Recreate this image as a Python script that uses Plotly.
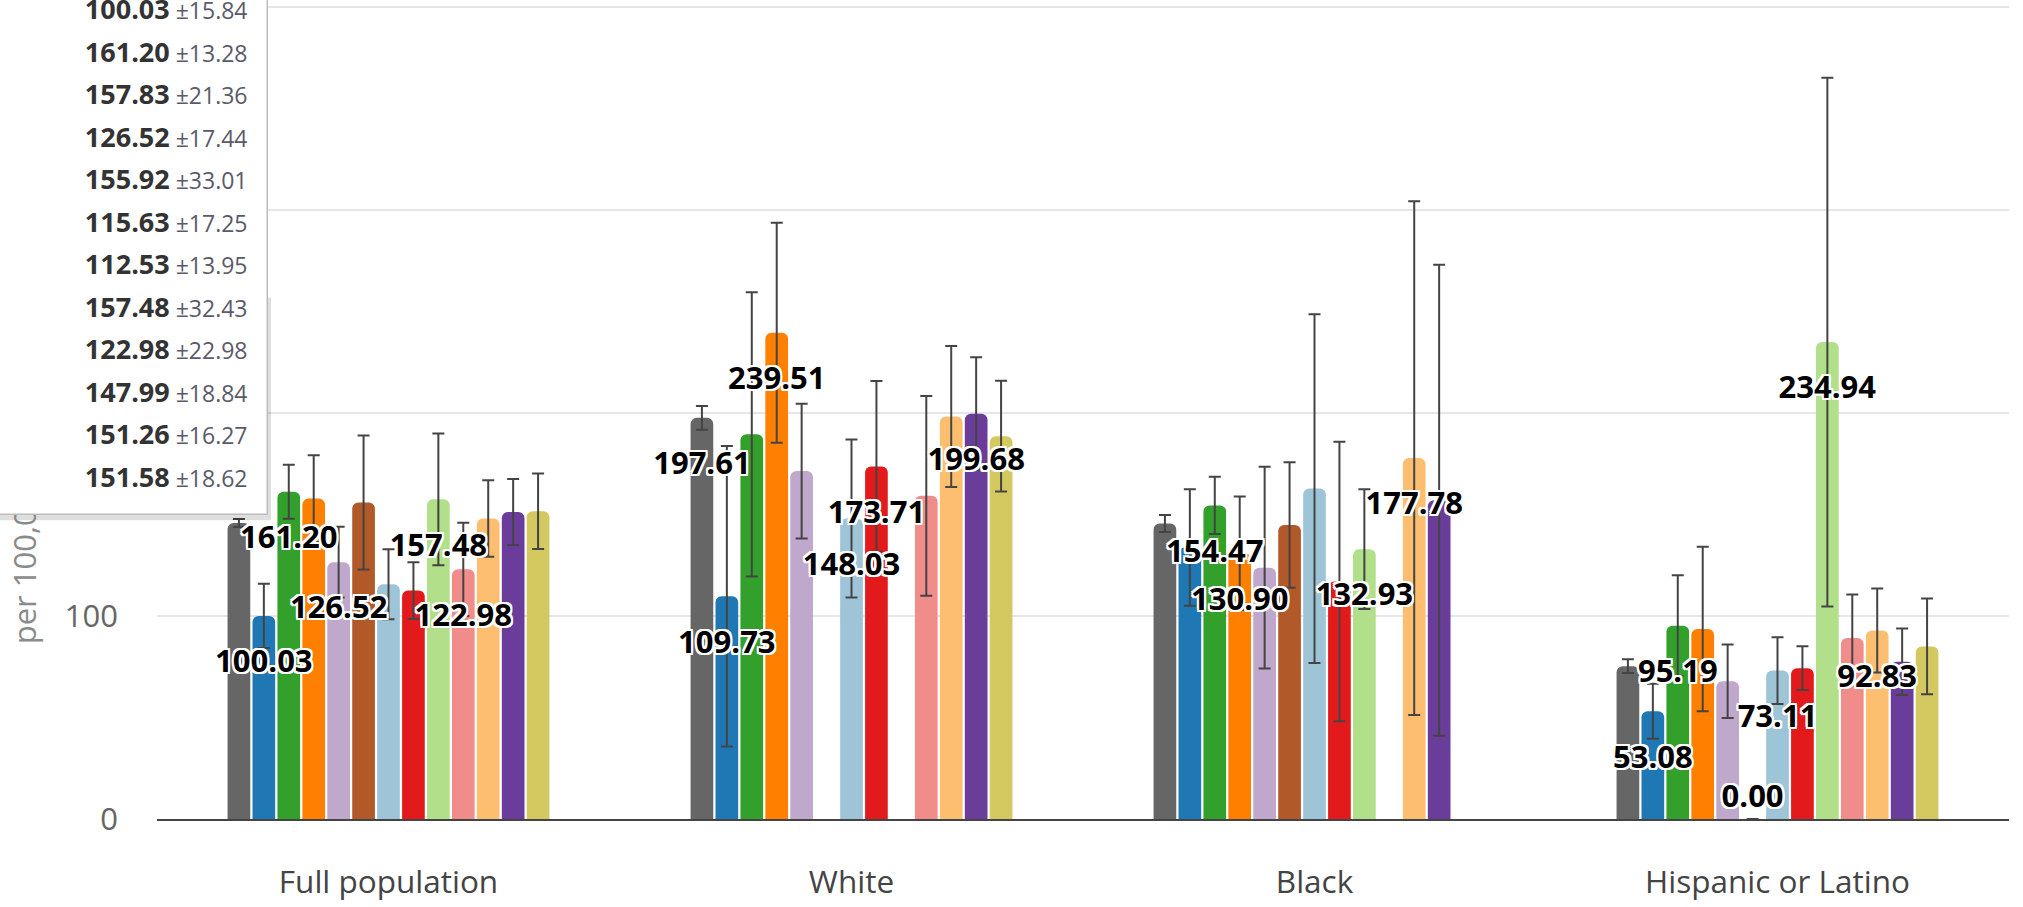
import plotly.graph_objects as go

# ---------------- data ----------------
categories = ["Full population", "White", "Black", "Hispanic or Latino"]

series_names = [f"Series {i + 1}" for i in range(13)]
series_colors = ["#666666", "#1f78b4", "#33a02c", "#ff7f00", "#c0a7cc", "#b15928",
                 "#9ec4d8", "#e31a1c", "#b2df8a", "#f08d8b", "#fdbf6f", "#6a3d9a", "#d4c860"]

full_population = [145.80, 100.03, 161.20, 157.83, 126.52, 155.92, 115.63, 112.53, 157.48, 122.98, 147.99, 151.26, 151.58]
full_population_err = [2.00, 15.84, 13.28, 21.36, 17.44, 33.01, 17.25, 13.95, 32.43, 22.98, 18.84, 16.27, 18.62]

white = [197.61, 109.73, 189.50, 239.51, 171.40, None, 148.03, 173.71, None, 159.20, 198.30, 199.68, 188.60]
white_err = [5.9, 74.0, 70.0, 54.2, 33.2, None, 38.9, 42.0, None, 49.2, 34.7, 27.8, 27.3]

black = [145.60, 133.70, 154.47, 130.90, 123.80, 144.80, 162.80, 117.00, 132.93, None, 177.78, 157.00, None]
black_err = [4.2, 28.7, 14.1, 28.0, 49.7, 30.9, 85.9, 68.8, 29.5, None, 126.6, 116.0, None]

hispanic = [75.30, 53.08, 95.19, 93.60, 67.90, 0.00, 73.11, 74.30, 234.94, 89.20, 92.83, 77.50, 85.00]
hispanic_err = [3.4, 13.5, 24.9, 40.5, 18.1, 0.0, 16.4, 10.8, 130.2, 21.4, 20.7, 16.4, 23.6]

# which series show a data label in each category
labels_full = [1, 2, 4, 8, 9]
labels_white = [0, 1, 3, 6, 7, 11]
labels_black = [2, 3, 8, 10]
labels_hispanic = [1, 2, 5, 6, 8, 10]

y_title = "per 100,000 population per year"

# ---------------- layout constants ----------------
W, H = 2023, 907
ML, MR, MT, MB = 157, 14, 5, 82
PW, PH = W - ML - MR, H - MT - MB

def px_x(p):
    return (p - ML) / PW

def px_y(p):
    return (H - MB - p) / PH

label_font = dict(family="Open Sans", size=31, color="#000000", weight=700,
                  shadow="2px 2px 0 #fff, -2px -2px 0 #fff, 2px -2px 0 #fff, -2px 2px 0 #fff, "
                         "0 2px 0 #fff, 2px 0 0 #fff, 0 -2px 0 #fff, -2px 0 0 #fff")

cat_values = [full_population, white, black, hispanic]
cat_errors = [full_population_err, white_err, black_err, hispanic_err]
cat_labels = [labels_full, labels_white, labels_black, labels_hispanic]

fig = go.Figure()

# real bars with error bars
for i in range(len(series_names)):
    ys = [vals[i] for vals in cat_values]
    errs = [errs_[i] for errs_ in cat_errors]
    fig.add_trace(go.Bar(
        x=categories, y=ys, name=series_names[i],
        marker=dict(color=series_colors[i], line=dict(width=0), cornerradius=6),
        error_y=dict(type="data", array=errs, visible=True, color="#444444", thickness=2, width=6),
        hoverinfo="skip", showlegend=False,
    ))

# label layer (transparent bars on an overlaying subplot, so labels sit on top)
for i in range(len(series_names)):
    ys = [vals[i] for vals in cat_values]
    texts, positions = [], []
    for vals, lab in zip(cat_values, cat_labels):
        v = vals[i]
        if i in lab and v is not None:
            texts.append("<span style='font-size:12px'>\u00a0</span><br>" + f"{v:.2f}")
        else:
            texts.append("")
        positions.append("outside" if (v is not None and v == 0) else "inside")
    fig.add_trace(go.Bar(
        x=categories, y=ys, name=series_names[i] + " label",
        xaxis="x2", yaxis="y2",
        marker=dict(color="rgba(0,0,0,0)", line=dict(width=0), cornerradius=0),
        text=texts, textposition=positions, insidetextanchor="end",
        constraintext="none", textangle=0, cliponaxis=False,
        textfont=label_font, insidetextfont=label_font, outsidetextfont=label_font,
        hoverinfo="skip", showlegend=False,
    ))

# tooltip-like box (values of the full population group)
tip_lines = []
for v, e in zip(full_population, full_population_err):
    tip_lines.append(f"<span style='font-size:27px;color:#333333'><b>{v:.2f}</b></span>"
                     f"<span style='font-size:23px;color:#5a5a6a'> \u00b1{e:.2f}</span>")
tip_text = "<br>".join(tip_lines)

fig.update_layout(
    width=W, height=H,
    margin=dict(l=ML, r=MR, t=MT, b=MB),
    paper_bgcolor="white", plot_bgcolor="white",
    font=dict(family="Open Sans", color="#444444"),
    barmode="group", bargap=0.30, bargroupgap=0.09,
    xaxis=dict(type="category", range=[-0.5, 3.5], showgrid=False, showline=True,
               linecolor="#444444", linewidth=2, ticks="", zeroline=False,
               tickfont=dict(size=31.5, color="#444444"), ticklabelstandoff=34),
    yaxis=dict(range=[0, 401], tickvals=[0, 100, 200, 300, 400], showgrid=True,
               gridcolor="#e6e6e6", gridwidth=2,
               zeroline=False, showline=False, ticks="",
               tickfont=dict(size=31, color="#666666"), ticklabelstandoff=38,
               title=dict(text=y_title, font=dict(size=31, color="#8a8a8a"), standoff=18)),
    xaxis2=dict(type="category", range=[-0.5, 3.5], overlaying="x", visible=False),
    yaxis2=dict(range=[0, 401], overlaying="y", visible=False),
    shapes=[dict(type="rect", xref="paper", yref="paper", layer="above",
                 x0=px_x(-300), x1=px_x(271), y0=px_y(524), y1=px_y(300),
                 fillcolor="rgba(0,0,0,0.13)", line=dict(width=0))],
    annotations=[dict(
        xref="paper", yref="paper", x=px_x(268), y=px_y(519),
        xanchor="right", yanchor="bottom", showarrow=False,
        text=tip_text, align="right", width=520,
        font=dict(family="Open Sans", size=32.7, color="#333333"),
        bgcolor="#ffffff", bordercolor="#bdbdbd", borderwidth=1.5, borderpad=19,
    )],
)

fig.write_html("out.html", config={"displayModeBar": False},
               post_script="document.body.style.margin='0';document.body.style.overflow='hidden';")
